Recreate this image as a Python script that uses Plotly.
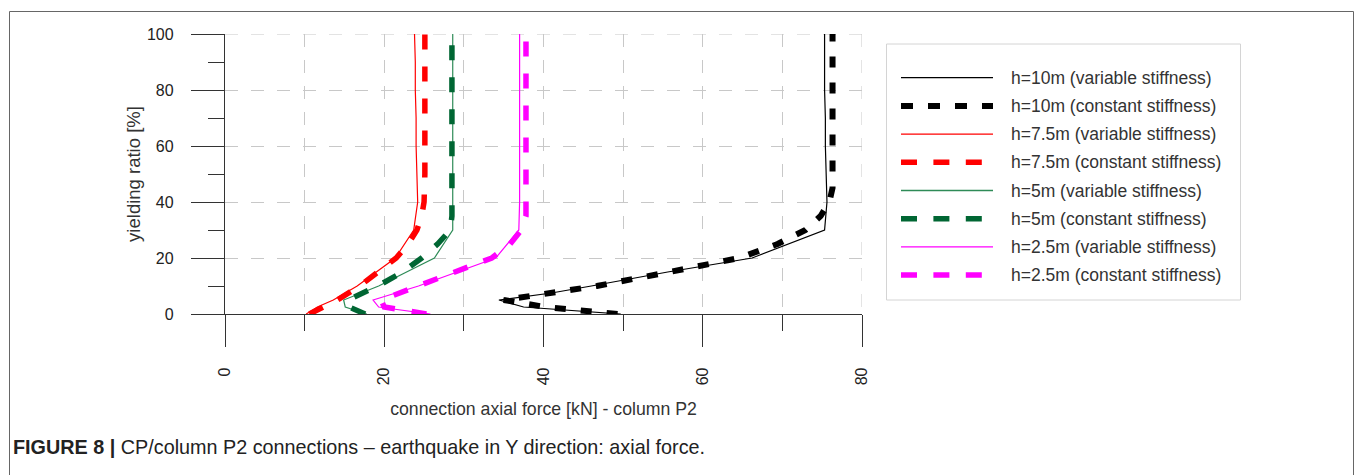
import plotly.graph_objects as go

# ---------------- data ----------------
y_h10_var = [0, 2.5, 5, 7.5, 10, 15, 20, 30, 40, 50, 60, 70, 80, 90, 100]
x_h10_var = [49.7, 37.5, 34.4, 41.0, 46.0, 55.6, 66.2, 75.3, 75.6, 75.5, 75.4, 75.4, 75.3, 75.3, 75.3]

y_h10_const = [0, 2.5, 5, 7.5, 10, 15, 20, 25, 30, 35, 40, 45, 50, 60, 70, 80, 90, 100]
x_h10_const = [49.3, 40.2, 35.0, 41.3, 46.7, 55.8, 64.6, 69.4, 72.9, 74.8, 75.9, 76.3, 76.3, 76.3, 76.3, 76.3, 76.3, 76.3]

y_h75_var = [0, 2.5, 5, 10, 20, 30, 40, 50, 60, 70, 80, 90, 100]
x_h75_var = [10.2, 11.6, 13.6, 16.6, 21.4, 23.7, 24.2, 24.1, 24.0, 24.0, 23.9, 23.9, 23.8]

y_h75_const = [0, 5, 10, 15, 20, 25, 30, 35, 40, 50, 60, 70, 80, 90, 100]
x_h75_const = [10.6, 14.1, 16.9, 19.3, 21.5, 23.0, 24.1, 24.7, 25.0, 25.1, 25.1, 25.1, 25.1, 25.1, 25.1]

y_h5_var = [0, 2.5, 5, 10, 20, 30, 40, 50, 60, 70, 80, 90, 100]
x_h5_var = [17.8, 15.1, 14.9, 19.3, 26.3, 28.6, 28.6, 28.6, 28.6, 28.6, 28.6, 28.6, 28.6]

y_h5_const = [0, 2.5, 5, 10, 15, 20, 25, 30, 35, 40, 50, 60, 70, 80, 90, 100]
x_h5_const = [17.6, 15.6, 15.4, 19.2, 22.3, 24.7, 26.7, 28.3, 28.5, 28.5, 28.5, 28.5, 28.5, 28.5, 28.5, 28.5]

y_h25_var = [0, 2.5, 5, 10, 20, 30, 40, 50, 60, 70, 80, 90, 100]
x_h25_var = [25.8, 19.3, 18.6, 24.3, 34.0, 36.9, 37.0, 37.0, 37.0, 37.0, 37.0, 37.0, 37.0]

y_h25_const = [0, 2.5, 5, 10, 15, 20, 25, 30, 35, 40, 50, 60, 70, 80, 90, 100]
x_h25_const = [25.3, 20.0, 19.6, 24.3, 29.0, 33.5, 35.8, 37.2, 37.8, 37.8, 37.8, 37.8, 37.8, 37.8, 37.8, 37.8]

series_names = [
    "h=10m (variable stiffness)",
    "h=10m (constant stiffness)",
    "h=7.5m (variable stiffness)",
    "h=7.5m (constant stiffness)",
    "h=5m (variable stiffness)",
    "h=5m (constant stiffness)",
    "h=2.5m (variable stiffness)",
    "h=2.5m (constant stiffness)",
]
series_x = [x_h10_var, x_h10_const, x_h75_var, x_h75_const, x_h5_var, x_h5_const, x_h25_var, x_h25_const]
series_y = [y_h10_var, y_h10_const, y_h75_var, y_h75_const, y_h5_var, y_h5_const, y_h25_var, y_h25_const]

x_ticks = [0, 20, 40, 60, 80]
y_ticks = [0, 20, 40, 60, 80, 100]

x_title = "connection axial force [kN] - column P2"
y_title = "yielding ratio [%]"
caption = "<b>FIGURE 8 |</b> CP/column P2 connections \u2013 earthquake in Y direction: axial force."

# ---------------- styles ----------------
colors = ["#000000", "#000000", "#ff0000", "#ff0000", "#2e8b57", "#006633", "#ff00ff", "#ff00ff"]
widths = [1.2, 6, 1.2, 5.5, 1.2, 5.5, 1.2, 5.5]
dashes = ["solid", "11px,15px", "solid", "15px,17px", "solid", "15px,17px", "solid", "15px,17px"]
legend_dashes = ["solid", "12px,15px", "solid", "16px,16.4px", "solid", "16px,16.4px", "solid", "16px,16.4px"]

W, H = 1355, 475
PL, PR, PT, PB = 225, 862, 34, 314  # plot area in px
FONT = "Liberation Sans, Arial, Helvetica, sans-serif"
TXT = "#333333"


def px_x(px):
    return (px - PL) / (PR - PL)


def px_y(py):
    return (PB - py) / (PB - PT)


fig = go.Figure()
for name, xs, ys, c, w, d in zip(series_names, series_x, series_y, colors, widths, dashes):
    fig.add_trace(go.Scatter(x=xs, y=ys, mode="lines", name=name,
                             line=dict(color=c, width=w, dash=d), showlegend=False))

grid_col = "#c8c8c8"
grid_dash = "13px,13px"
axis_col = "#333333"

shapes = []
annotations = []

# edge grid lines (top and right) drawn explicitly, same direction/phase as plotly's own grid
shapes.append(dict(type="line", xref="x", yref="y", x0=x_ticks[0], x1=x_ticks[-1],
                   y0=y_ticks[-1], y1=y_ticks[-1], line=dict(color=grid_col, width=1, dash=grid_dash),
                   layer="below"))
shapes.append(dict(type="line", xref="x", yref="y", x0=x_ticks[-1], x1=x_ticks[-1],
                   y0=y_ticks[-1], y1=y_ticks[0], line=dict(color=grid_col, width=1, dash=grid_dash),
                   layer="below"))

# outer frame
shapes.append(dict(type="rect", xref="paper", yref="paper",
                   x0=px_x(9.5), x1=px_x(1353.5), y0=px_y(520), y1=px_y(11.5),
                   line=dict(color="#666666", width=1), fillcolor="rgba(0,0,0,0)", layer="below"))

# custom legend box
shapes.append(dict(type="rect", xref="paper", yref="paper",
                   x0=px_x(886.5), x1=px_x(1240.5), y0=px_y(300), y1=px_y(44),
                   line=dict(color="#d4d4d4", width=1), fillcolor="white", layer="above"))
row0, row_step = 77.7, 28.2
for i, (name, c, w, d) in enumerate(zip(series_names, colors, widths, legend_dashes)):
    ry = row0 + i * row_step
    lw = w if w > 2 else 1.3
    shapes.append(dict(type="line", xref="paper", yref="paper",
                       x0=px_x(901), x1=px_x(993), y0=px_y(ry), y1=px_y(ry),
                       line=dict(color=c, width=lw, dash=d), layer="above"))
    annotations.append(dict(text=name, xref="paper", yref="paper", x=px_x(1008.5), y=px_y(ry),
                            xanchor="left", yanchor="middle", showarrow=False,
                            font=dict(family=FONT, size=17.5, color=TXT)))

# caption
annotations.append(dict(text=caption, xref="paper", yref="paper", x=px_x(11), y=px_y(447),
                        xanchor="left", yanchor="middle", showarrow=False,
                        font=dict(family=FONT, size=19.8, color="#222222")))

fig.update_layout(
    width=W, height=H, template="none",
    margin=dict(l=PL, r=W - PR, t=PT, b=H - PB, pad=0, autoexpand=False),
    paper_bgcolor="white", plot_bgcolor="white",
    font=dict(family=FONT, size=16, color=TXT),
    showlegend=False,
    shapes=shapes, annotations=annotations,
    xaxis=dict(range=[0, 80], tickmode="array", tickvals=x_ticks, ticktext=[str(v) for v in x_ticks],
               tickangle=-90, ticks="outside", ticklen=32, tickwidth=1.3, tickcolor=axis_col,
               ticklabelstandoff=14, tickfont=dict(size=16, color="#222222"),
               showline=True, linecolor=axis_col, linewidth=1.3, mirror=False, zeroline=False,
               showgrid=True, gridcolor=grid_col, griddash=grid_dash, gridwidth=1,
               minor=dict(dtick=10, tick0=0, ticks="outside", ticklen=16, tickwidth=1.3, tickcolor=axis_col,
                          showgrid=True, gridcolor=grid_col, griddash=grid_dash, gridwidth=1),
               title=dict(text=x_title, standoff=18, font=dict(size=17.7, color=TXT)),
               automargin=False, layer="above traces"),
    yaxis=dict(range=[0, 100], tickmode="array", tickvals=y_ticks, ticktext=[str(v) for v in y_ticks],
               ticks="outside", ticklen=33, tickwidth=1.3, tickcolor=axis_col,
               ticklabelstandoff=14, tickfont=dict(size=16, color="#222222"),
               showline=True, linecolor=axis_col, linewidth=1.3, mirror=False, zeroline=False,
               showgrid=True, gridcolor=grid_col, griddash=grid_dash, gridwidth=1,
               minor=dict(dtick=10, tick0=0, ticks="outside", ticklen=16, tickwidth=1.3, tickcolor=axis_col,
                          showgrid=False),
               title=dict(text=y_title, standoff=1, font=dict(size=18.5, color=TXT)),
               automargin=False, layer="above traces"),
)

fig.write_html("out.html")
